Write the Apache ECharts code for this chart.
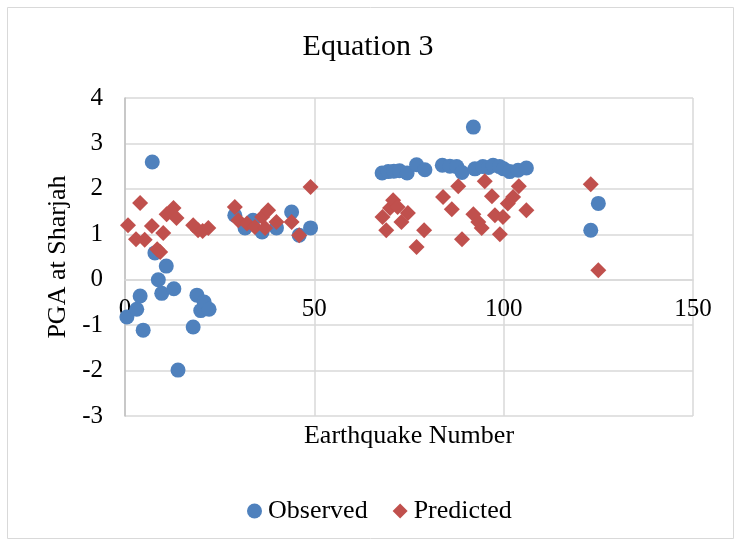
<!DOCTYPE html>
<html>
<head>
<meta charset="utf-8">
<script src="https://cdn.jsdelivr.net/npm/echarts@6/dist/echarts.min.js"></script>
<style>
html,body{margin:0;padding:0;background:#fff;}
#chart{width:736px;height:541px;}
</style>
</head>
<body>
<div id="chart"></div>
<script>
var chartTitle = 'Equation 3';
var xAxisTitle = 'Earthquake Number';
var yAxisTitle = 'PGA at Sharjah';
var seriesNames = ['Observed', 'Predicted'];

var observedX = [0.5, 3.1, 4, 4.8, 7.2, 7.9, 8.8, 9.7, 10.9, 12.9, 14, 18, 19, 20, 20.9, 22.2,
  29, 31.7, 33.8, 36.2, 40, 44, 46, 49,
  67.9, 69.5, 71, 72.5, 74.5, 77, 79.2, 83.8, 85.8, 87.6, 89, 92, 92.4, 94.5, 96, 97.2, 98.9, 100, 101.6, 103.8, 106,
  123, 125];
var observedY = [-0.82, -0.65, -0.36, -1.11, 2.59, 0.59, 0, -0.3, 0.3, -0.2, -1.99, -1.04, -0.34, -0.68, -0.49, -0.65,
  1.42, 1.14, 1.31, 1.05, 1.14, 1.49, 0.98, 1.14,
  2.35, 2.38, 2.39, 2.40, 2.35, 2.53, 2.42, 2.52, 2.5, 2.49, 2.36, 3.36, 2.44, 2.49, 2.47, 2.52, 2.49, 2.44, 2.38, 2.41, 2.46,
  1.09, 1.68];

var predictedX = [0.8, 2.9, 4, 5.2, 7.1, 8.5, 9.3, 10.1, 11, 12.8, 13.6, 18, 19.3, 20.5, 22,
  29, 29.9, 32.2, 34.3, 36.2, 37, 37.8, 40, 44, 46, 49,
  68, 69, 70, 70.8, 72, 73, 74.7, 77, 79, 84, 86.3, 88, 89, 92, 93.3, 94.2, 95, 96.9, 97.7, 99, 99.8, 101.1, 102.5, 104, 106,
  123, 125];
var predictedY = [1.2, 0.89, 1.69, 0.88, 1.18, 0.67, 0.61, 1.03, 1.44, 1.58, 1.36, 1.2, 1.09, 1.07, 1.14,
  1.6, 1.31, 1.24, 1.16, 1.38, 1.14, 1.53, 1.27, 1.27, 0.98, 2.04,
  1.38, 1.09, 1.58, 1.75, 1.6, 1.27, 1.47, 0.72, 1.09, 1.82, 1.55, 2.06, 0.89, 1.44, 1.27, 1.14, 2.17, 1.84, 1.42, 1.0, 1.38, 1.68, 1.82, 2.06, 1.53,
  2.1, 0.21];

var xTicks = [0, 50, 100, 150];
var yTicks = [-3, -2, -1, 0, 1, 2, 3, 4];

function pairs(xs, ys) { return xs.map(function (x, i) { return [x, ys[i]]; }); }

var FONT = "'Liberation Serif', 'Times New Roman', serif";
var GRID = {left: 125, right: 43, top: 98, bottom: 125};
var plotHeight = 541 - GRID.top - GRID.bottom;
var yMin = yTicks[0], yMax = yTicks[yTicks.length - 1];
// move the horizontal axis up so it crosses the vertical axis at 0 (Excel style)
var zeroOffset = -plotHeight * (0 - yMin) / (yMax - yMin);

var chart = echarts.init(document.getElementById('chart'), null, {renderer: 'canvas'});
chart.setOption({
  backgroundColor: '#ffffff',
  animation: false,
  title: {
    text: chartTitle, left: 'center', top: 32, padding: 0,
    textStyle: {fontFamily: FONT, fontSize: 30, fontWeight: 'normal', color: '#000'}
  },
  graphic: [{
    type: 'rect', shape: {x: 7.5, y: 7.5, width: 726, height: 531},
    style: {fill: 'none', stroke: '#d9d9d9', lineWidth: 1}, silent: true, z: -1
  }],
  legend: {
    data: [{name: seriesNames[0], icon: 'circle'}, {name: seriesNames[1], icon: 'diamond'}],
    left: 242, top: 493, itemWidth: 15, itemHeight: 15, itemGap: 25,
    textStyle: {fontFamily: FONT, fontSize: 26, color: '#000', padding: [0, 0, 0, 1]}
  },
  grid: {left: GRID.left, right: GRID.right, top: GRID.top, bottom: GRID.bottom, containLabel: false, outerBoundsMode: 'none'},
  xAxis: {
    type: 'value', min: xTicks[0], max: xTicks[xTicks.length - 1], interval: 50,
    position: 'bottom', offset: zeroOffset,
    name: xAxisTitle, nameLocation: 'middle', nameGap: 143,
    nameTextStyle: {fontFamily: FONT, fontSize: 26, color: '#000'},
    axisLine: {onZero: false, lineStyle: {color: '#d9d9d9', width: 1.5}},
    axisTick: {show: false},
    axisLabel: {fontFamily: FONT, fontSize: 25, color: '#000', margin: 17},
    splitLine: {show: true, lineStyle: {color: '#d9d9d9', width: 1.5}}
  },
  yAxis: {
    type: 'value', min: yMin, max: yMax, interval: 1,
    name: yAxisTitle, nameLocation: 'middle', nameGap: 54, nameRotate: 90,
    nameTextStyle: {fontFamily: FONT, fontSize: 26, color: '#000'},
    axisLine: {show: true, onZero: false, lineStyle: {color: '#bfbfbf', width: 1.5}},
    axisTick: {show: false},
    axisLabel: {fontFamily: FONT, fontSize: 25, color: '#000', margin: 22},
    splitLine: {show: true, lineStyle: {color: '#d9d9d9', width: 1.5}}
  },
  series: [{
    name: seriesNames[0], type: 'scatter', symbol: 'circle', symbolSize: 15,
    itemStyle: {color: '#4f81bd', opacity: 1}, data: pairs(observedX, observedY), z: 2
  }, {
    name: seriesNames[1], type: 'scatter', symbol: 'diamond', symbolSize: 16,
    itemStyle: {color: '#c0504d', opacity: 1}, data: pairs(predictedX, predictedY), z: 3
  }]
});
</script>
</body>
</html>
